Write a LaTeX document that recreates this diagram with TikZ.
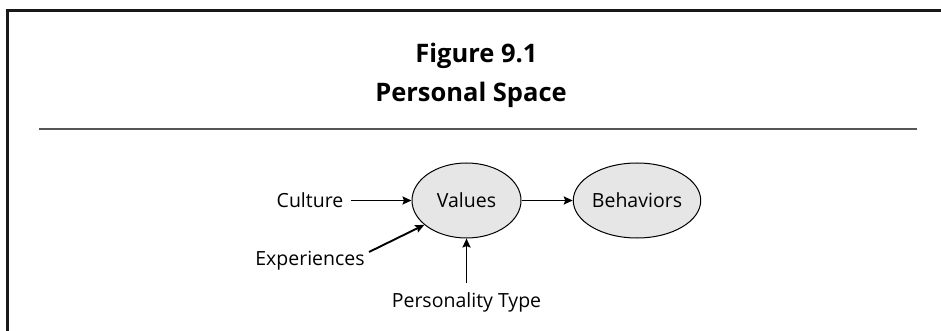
\documentclass[tikz,border=0pt]{standalone}
\usepackage{fontspec}
\setmainfont{Open Sans}
\usetikzlibrary{shapes.geometric,arrows.meta}
\definecolor{ellfill}{HTML}{E6E6E6}
\definecolor{rulegray}{HTML}{555555}
\tikzset{
  bubble/.style={ellipse,draw=black,line width=1pt,fill=ellfill,minimum width=109pt,minimum height=75pt,inner sep=0pt,font=\fontsize{19.5}{22}\selectfont},
  lbl/.style={anchor=base,inner sep=0pt,font=\fontsize{19.5}{22}\selectfont},
  ttl/.style={anchor=base,inner sep=0pt,font=\fontsize{25.5}{30}\selectfont\bfseries},
  arr/.style={line width=1.9pt,-{Stealth[length=9pt,width=8pt,inset=1.5pt]}}
}
\begin{document}
\begin{tikzpicture}[x=1pt,y=-1pt]
\useasboundingbox (0,0) rectangle (941,331);
\fill[white] (0,0) rectangle (941,331);
% frame
\draw[line width=2.6pt,black!90,line cap=rect] (7.5,335) -- (7.5,10.5) -- (945,10.5);
% title
\node[ttl] (t1) at (476.5,63) {Figure 9.1};
\node[ttl] (t2) at (471,102) {Personal Space};
\draw[line width=2.4pt,rulegray] (39,129) -- (917,129);
% nodes
\node[bubble] (values) at (466.5,200.5) {Values};
\node[bubble] (behav) at (637,200.5) {Behaviors};
\node[lbl] (culture) at (310,207) {Culture};
\node[lbl] (exper) at (310,265) {Experiences};
\node[lbl] (pers) at (466.5,307) {Personality Type};
% arrow starts
\coordinate (cS) at (351,200.5);
\coordinate (eS) at (369,252);
\coordinate (pS) at (466.5,283);
\draw[arr] (cS) -- (values.west);
\draw[arr] (values.east) -- (behav.west);
\draw[arr] (eS) -- (values.210);
\draw[arr] (pS) -- (values.south);
\end{tikzpicture}
\end{document}
